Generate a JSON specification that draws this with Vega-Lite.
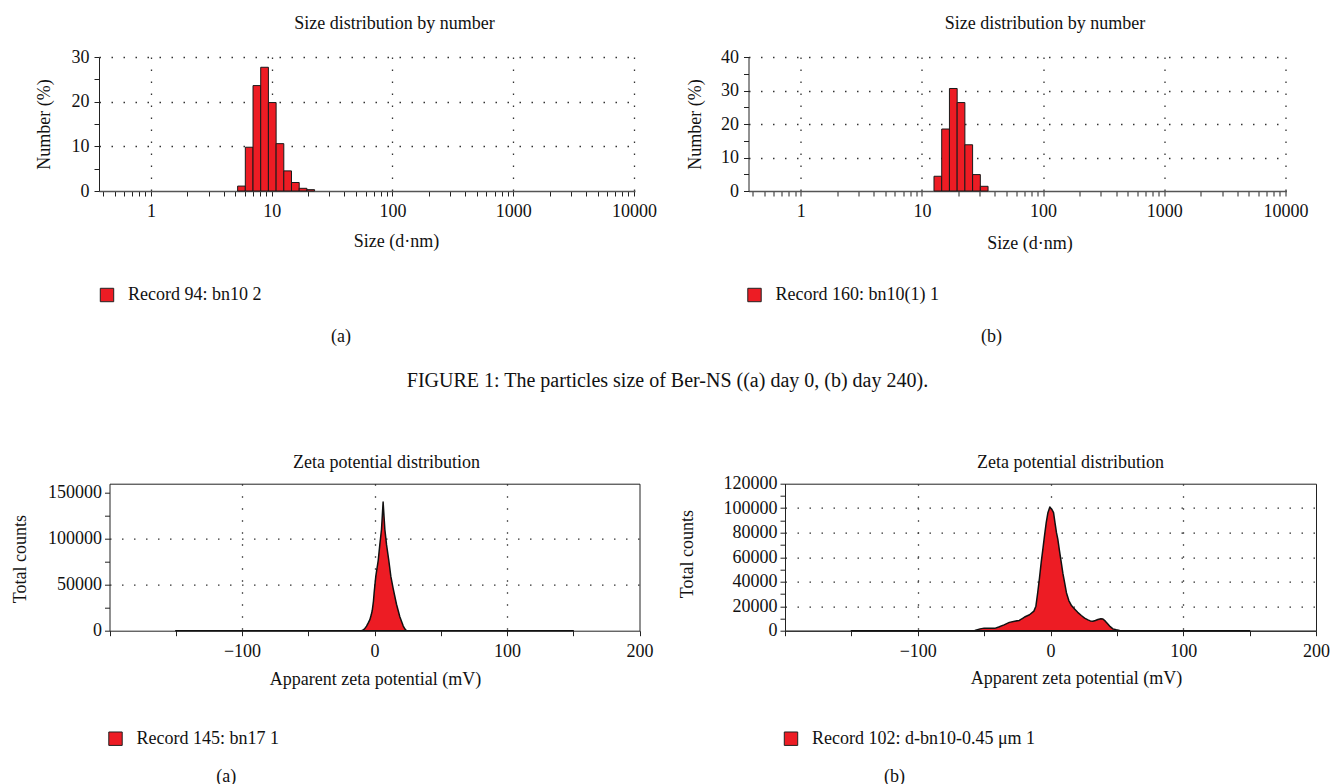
{
  "$schema": "https://vega.github.io/schema/vega-lite/v6.json",
  "padding": {"left": 10, "top": 14, "right": 0, "bottom": 0},
  "background": "white",
  "datasets": {
    "sizeA": [
      {"size": 5.615, "lo": 5.218, "hi": 6.043, "pct": 1.1, "record": "Record 94: bn10 2"},
      {"size": 6.503, "lo": 6.043, "hi": 6.998, "pct": 9.8, "record": "Record 94: bn10 2"},
      {"size": 7.531, "lo": 6.998, "hi": 8.104, "pct": 23.6, "record": "Record 94: bn10 2"},
      {"size": 8.721, "lo": 8.104, "hi": 9.385, "pct": 27.7, "record": "Record 94: bn10 2"},
      {"size": 10.1, "lo": 9.385, "hi": 10.871, "pct": 19.8, "record": "Record 94: bn10 2"},
      {"size": 11.7, "lo": 10.871, "hi": 12.587, "pct": 10.6, "record": "Record 94: bn10 2"},
      {"size": 13.54, "lo": 12.587, "hi": 14.575, "pct": 4.5, "record": "Record 94: bn10 2"},
      {"size": 15.69, "lo": 14.575, "hi": 16.884, "pct": 1.9, "record": "Record 94: bn10 2"},
      {"size": 18.17, "lo": 16.884, "hi": 19.552, "pct": 0.6, "record": "Record 94: bn10 2"},
      {"size": 21.04, "lo": 19.552, "hi": 22.639, "pct": 0.3, "record": "Record 94: bn10 2"}
    ],
    "sizeB": [
      {"size": 13.54, "lo": 12.587, "hi": 14.575, "pct": 4.4, "record": "Record 160: bn10(1) 1"},
      {"size": 15.69, "lo": 14.575, "hi": 16.884, "pct": 18.5, "record": "Record 160: bn10(1) 1"},
      {"size": 18.17, "lo": 16.884, "hi": 19.552, "pct": 30.6, "record": "Record 160: bn10(1) 1"},
      {"size": 21.04, "lo": 19.552, "hi": 22.639, "pct": 26.4, "record": "Record 160: bn10(1) 1"},
      {"size": 24.36, "lo": 22.639, "hi": 26.214, "pct": 13.8, "record": "Record 160: bn10(1) 1"},
      {"size": 28.21, "lo": 26.214, "hi": 30.358, "pct": 4.9, "record": "Record 160: bn10(1) 1"},
      {"size": 32.67, "lo": 30.358, "hi": 35.16, "pct": 1.4, "record": "Record 160: bn10(1) 1"}
    ],
    "zetaC": [
      {"mv": -150, "counts": 0, "record": "Record 145: bn17 1"},
      {"mv": -10, "counts": 0, "record": "Record 145: bn17 1"},
      {"mv": -9.3, "counts": 200, "record": "Record 145: bn17 1"},
      {"mv": -7.5, "counts": 2000, "record": "Record 145: bn17 1"},
      {"mv": -6, "counts": 5000, "record": "Record 145: bn17 1"},
      {"mv": -4.7, "counts": 8500, "record": "Record 145: bn17 1"},
      {"mv": -3.5, "counts": 12000, "record": "Record 145: bn17 1"},
      {"mv": -2.5, "counts": 17000, "record": "Record 145: bn17 1"},
      {"mv": -1.7, "counts": 22000, "record": "Record 145: bn17 1"},
      {"mv": -0.8, "counts": 32000, "record": "Record 145: bn17 1"},
      {"mv": -0.2, "counts": 42400, "record": "Record 145: bn17 1"},
      {"mv": 1, "counts": 59400, "record": "Record 145: bn17 1"},
      {"mv": 2.8, "counts": 76400, "record": "Record 145: bn17 1"},
      {"mv": 4, "counts": 93400, "record": "Record 145: bn17 1"},
      {"mv": 5.3, "counts": 110400, "record": "Record 145: bn17 1"},
      {"mv": 6.5, "counts": 140000, "record": "Record 145: bn17 1"},
      {"mv": 7.8, "counts": 110400, "record": "Record 145: bn17 1"},
      {"mv": 9.1, "counts": 93400, "record": "Record 145: bn17 1"},
      {"mv": 10.8, "counts": 76400, "record": "Record 145: bn17 1"},
      {"mv": 12.3, "counts": 59400, "record": "Record 145: bn17 1"},
      {"mv": 14.1, "counts": 45800, "record": "Record 145: bn17 1"},
      {"mv": 16.6, "counts": 28800, "record": "Record 145: bn17 1"},
      {"mv": 19.1, "counts": 15200, "record": "Record 145: bn17 1"},
      {"mv": 21.7, "counts": 5000, "record": "Record 145: bn17 1"},
      {"mv": 23, "counts": 1800, "record": "Record 145: bn17 1"},
      {"mv": 24.2, "counts": 0, "record": "Record 145: bn17 1"},
      {"mv": 150, "counts": 0, "record": "Record 145: bn17 1"}
    ],
    "zetaD": [
      {"mv": -150, "counts": 0, "record": "Record 102: d-bn10-0.45 μm 1"},
      {"mv": -60, "counts": 0, "record": "Record 102: d-bn10-0.45 μm 1"},
      {"mv": -57, "counts": 200, "record": "Record 102: d-bn10-0.45 μm 1"},
      {"mv": -53, "counts": 1500, "record": "Record 102: d-bn10-0.45 μm 1"},
      {"mv": -50, "counts": 2100, "record": "Record 102: d-bn10-0.45 μm 1"},
      {"mv": -45, "counts": 2000, "record": "Record 102: d-bn10-0.45 μm 1"},
      {"mv": -42, "counts": 1900, "record": "Record 102: d-bn10-0.45 μm 1"},
      {"mv": -39, "counts": 3000, "record": "Record 102: d-bn10-0.45 μm 1"},
      {"mv": -35, "counts": 4800, "record": "Record 102: d-bn10-0.45 μm 1"},
      {"mv": -31, "counts": 6800, "record": "Record 102: d-bn10-0.45 μm 1"},
      {"mv": -27, "counts": 7800, "record": "Record 102: d-bn10-0.45 μm 1"},
      {"mv": -23.5, "counts": 8400, "record": "Record 102: d-bn10-0.45 μm 1"},
      {"mv": -21, "counts": 10000, "record": "Record 102: d-bn10-0.45 μm 1"},
      {"mv": -19.5, "counts": 11200, "record": "Record 102: d-bn10-0.45 μm 1"},
      {"mv": -15.8, "counts": 13000, "record": "Record 102: d-bn10-0.45 μm 1"},
      {"mv": -12.5, "counts": 16000, "record": "Record 102: d-bn10-0.45 μm 1"},
      {"mv": -11, "counts": 20000, "record": "Record 102: d-bn10-0.45 μm 1"},
      {"mv": -9.6, "counts": 31400, "record": "Record 102: d-bn10-0.45 μm 1"},
      {"mv": -8.3, "counts": 43000, "record": "Record 102: d-bn10-0.45 μm 1"},
      {"mv": -7, "counts": 55800, "record": "Record 102: d-bn10-0.45 μm 1"},
      {"mv": -5.7, "counts": 67000, "record": "Record 102: d-bn10-0.45 μm 1"},
      {"mv": -4.5, "counts": 77600, "record": "Record 102: d-bn10-0.45 μm 1"},
      {"mv": -3.2, "counts": 88400, "record": "Record 102: d-bn10-0.45 μm 1"},
      {"mv": -2, "counts": 96000, "record": "Record 102: d-bn10-0.45 μm 1"},
      {"mv": -0.5, "counts": 101000, "record": "Record 102: d-bn10-0.45 μm 1"},
      {"mv": 1, "counts": 99000, "record": "Record 102: d-bn10-0.45 μm 1"},
      {"mv": 2.3, "counts": 96400, "record": "Record 102: d-bn10-0.45 μm 1"},
      {"mv": 3.4, "counts": 88000, "record": "Record 102: d-bn10-0.45 μm 1"},
      {"mv": 4.5, "counts": 80000, "record": "Record 102: d-bn10-0.45 μm 1"},
      {"mv": 5.5, "counts": 74800, "record": "Record 102: d-bn10-0.45 μm 1"},
      {"mv": 6.8, "counts": 65000, "record": "Record 102: d-bn10-0.45 μm 1"},
      {"mv": 8.1, "counts": 55800, "record": "Record 102: d-bn10-0.45 μm 1"},
      {"mv": 9.3, "counts": 47000, "record": "Record 102: d-bn10-0.45 μm 1"},
      {"mv": 10.6, "counts": 39500, "record": "Record 102: d-bn10-0.45 μm 1"},
      {"mv": 12, "counts": 31000, "record": "Record 102: d-bn10-0.45 μm 1"},
      {"mv": 13.8, "counts": 24600, "record": "Record 102: d-bn10-0.45 μm 1"},
      {"mv": 15.8, "counts": 20500, "record": "Record 102: d-bn10-0.45 μm 1"},
      {"mv": 18.1, "counts": 17800, "record": "Record 102: d-bn10-0.45 μm 1"},
      {"mv": 20.5, "counts": 15000, "record": "Record 102: d-bn10-0.45 μm 1"},
      {"mv": 23.2, "counts": 12400, "record": "Record 102: d-bn10-0.45 μm 1"},
      {"mv": 25.7, "counts": 10300, "record": "Record 102: d-bn10-0.45 μm 1"},
      {"mv": 28.2, "counts": 8800, "record": "Record 102: d-bn10-0.45 μm 1"},
      {"mv": 30, "counts": 8000, "record": "Record 102: d-bn10-0.45 μm 1"},
      {"mv": 31.9, "counts": 7700, "record": "Record 102: d-bn10-0.45 μm 1"},
      {"mv": 33.8, "counts": 8300, "record": "Record 102: d-bn10-0.45 μm 1"},
      {"mv": 35.7, "counts": 9100, "record": "Record 102: d-bn10-0.45 μm 1"},
      {"mv": 38, "counts": 9700, "record": "Record 102: d-bn10-0.45 μm 1"},
      {"mv": 39.5, "counts": 9600, "record": "Record 102: d-bn10-0.45 μm 1"},
      {"mv": 41.3, "counts": 7800, "record": "Record 102: d-bn10-0.45 μm 1"},
      {"mv": 43.2, "counts": 5500, "record": "Record 102: d-bn10-0.45 μm 1"},
      {"mv": 45, "counts": 3300, "record": "Record 102: d-bn10-0.45 μm 1"},
      {"mv": 47, "counts": 1500, "record": "Record 102: d-bn10-0.45 μm 1"},
      {"mv": 49.5, "counts": 700, "record": "Record 102: d-bn10-0.45 μm 1"},
      {"mv": 52.1, "counts": 200, "record": "Record 102: d-bn10-0.45 μm 1"},
      {"mv": 56, "counts": 50, "record": "Record 102: d-bn10-0.45 μm 1"},
      {"mv": 60, "counts": 0, "record": "Record 102: d-bn10-0.45 μm 1"},
      {"mv": 150, "counts": 0, "record": "Record 102: d-bn10-0.45 μm 1"}
    ]
  },
  "config": {
    "font": "Liberation Serif",
    "view": {"stroke": null},
    "title": {"font": "Liberation Serif", "fontSize": 18, "fontWeight": "normal", "color": "#111"},
    "axis": {
      "labelFont": "Liberation Serif", "labelFontSize": 18, "labelColor": "#111",
      "titleFont": "Liberation Serif", "titleFontSize": 18, "titleFontWeight": "normal", "titleColor": "#111",
      "tickColor": "#222", "domainColor": "#222", "tickSize": 5, "labelPadding": 4,
      "gridColor": "#333", "gridDash": [1.5, 10.5], "gridWidth": 1.3,
      "labelOverlap": false, "labelFlush": false
    },
    "legend": {
      "labelFont": "Liberation Serif", "labelFontSize": 18, "labelColor": "#111", "labelLimit": 0,
      "symbolType": "square", "symbolSize": 180, "symbolStrokeColor": "#222", "symbolStrokeWidth": 1,
      "labelOffset": 12, "padding": 0
    }
  },
  "spacing": 61.7,
  "resolve": {"scale": {"color": "independent"}},
  "vconcat": [
    {
      "title": {"text": "FIGURE 1: The particles size of Ber-NS ((a) day 0, (b) day 240).", "orient": "bottom", "anchor": "middle", "frame": "bounds", "offset": 25, "dx": -4, "fontSize": 20},
      "spacing": 28.5,
      "resolve": {"scale": {"color": "independent"}},
      "hconcat": [
        {
          "width": 536, "height": 134,
          "data": {"name": "sizeA"},
          "title": {"text": "(a)", "orient": "bottom", "anchor": "middle", "frame": "group", "offset": 24, "dx": -26},
          "layer": [
            {
              "mark": {"type": "rect", "stroke": "#1a1a1a", "strokeWidth": 1},
              "encoding": {
                "x": {"field": "lo", "type": "quantitative", "scale": {"type": "log", "domain": [0.371, 10200], "nice": false},
                  "axis": {"title": "Size (d·nm)", "values": [0.4,0.5,0.6,0.7,0.8,0.9,1,2,3,4,5,6,7,8,9,10,20,30,40,50,60,70,80,90,100,200,300,400,500,600,700,800,900,1000,2000,3000,4000,5000,6000,7000,8000,9000,10000],
                    "labelExpr": "indexof([1,10,100,1000,10000], datum.value) >= 0 ? format(datum.value, 'd') : ''",
                    "gridOpacity": {"condition": {"test": "indexof([1,10,100,1000,10000], datum.value) >= 0", "value": 1}, "value": 0},
                    "domainColor": "#555", "domainWidth": 1.5, "labelPadding": 6,
                    "titleX": 297, "titleY": 50, "titleBaseline": "middle", "titleAlign": "center"}},
                "x2": {"field": "hi"},
                "y": {"field": "pct", "type": "quantitative", "scale": {"domain": [0, 30]},
                  "axis": {"title": "Number (%)", "values": [0,5,10,15,20,25,30],
                    "labelExpr": "datum.value % 10 === 0 ? datum.label : ''",
                    "gridOpacity": {"condition": {"test": "datum.value % 10 === 0 && datum.value > 0", "value": 1}, "value": 0},
                    "labelPadding": 5,
                    "titleX": -55, "titleY": 67, "titleAngle": -90, "titleBaseline": "middle", "titleAlign": "center"}},
                "color": {"field": "record", "type": "nominal", "scale": {"range": ["#ed1c24"]},
                  "legend": {"orient": "none", "legendX": -1, "legendY": 229, "title": null}}
              }
            },
            {
              "mark": {"type": "rule", "opacity": 0},
              "encoding": {
                "x": {"field": "lo", "type": "quantitative",
                  "axis": {"orient": "top", "title": "Size distribution by number", "labels": false, "ticks": false, "domain": false, "grid": false,
                    "titleX": 295, "titleY": -34, "titleBaseline": "middle", "titleAlign": "center"}}
              }
            }
          ],
          "resolve": {"axis": {"x": "independent"}}
        },
        {
          "width": 538, "height": 134,
          "data": {"name": "sizeB"},
          "title": {"text": "(b)", "orient": "bottom", "anchor": "middle", "frame": "group", "offset": 24, "dx": -26},
          "layer": [
            {
              "mark": {"type": "rect", "stroke": "#1a1a1a", "strokeWidth": 1},
              "encoding": {
                "x": {"field": "lo", "type": "quantitative", "scale": {"type": "log", "domain": [0.371, 10200], "nice": false},
                  "axis": {"title": "Size (d·nm)", "values": [0.4,0.5,0.6,0.7,0.8,0.9,1,2,3,4,5,6,7,8,9,10,20,30,40,50,60,70,80,90,100,200,300,400,500,600,700,800,900,1000,2000,3000,4000,5000,6000,7000,8000,9000,10000],
                    "labelExpr": "indexof([1,10,100,1000,10000], datum.value) >= 0 ? format(datum.value, 'd') : ''",
                    "gridOpacity": {"condition": {"test": "indexof([1,10,100,1000,10000], datum.value) >= 0", "value": 1}, "value": 0},
                    "domainColor": "#555", "domainWidth": 1.5, "labelPadding": 6,
                    "titleX": 281, "titleY": 52, "titleBaseline": "middle", "titleAlign": "center"}},
                "x2": {"field": "hi"},
                "y": {"field": "pct", "type": "quantitative", "scale": {"domain": [0, 40]},
                  "axis": {"title": "Number (%)", "values": [0,5,10,15,20,25,30,35,40],
                    "labelExpr": "datum.value % 10 === 0 ? datum.label : ''",
                    "gridOpacity": {"condition": {"test": "datum.value % 10 === 0 && datum.value > 0", "value": 1}, "value": 0},
                    "labelPadding": 5,
                    "titleX": -53, "titleY": 67, "titleAngle": -90, "titleBaseline": "middle", "titleAlign": "center"}},
                "color": {"field": "record", "type": "nominal", "scale": {"range": ["#ed1c24"]},
                  "legend": {"orient": "none", "legendX": -3, "legendY": 229, "title": null}}
              }
            },
            {
              "mark": {"type": "rule", "opacity": 0},
              "encoding": {
                "x": {"field": "lo", "type": "quantitative",
                  "axis": {"orient": "top", "title": "Size distribution by number", "labels": false, "ticks": false, "domain": false, "grid": false,
                    "titleX": 296, "titleY": -34, "titleBaseline": "middle", "titleAlign": "center"}}
              }
            }
          ],
          "resolve": {"axis": {"x": "independent"}}
        }
      ]
    },
    {
      "spacing": 24,
      "resolve": {"scale": {"color": "independent"}},
      "hconcat": [
        {
          "width": 540.5, "height": 147,
          "data": {"name": "zetaC"},
          "title": {"text": "(a)", "orient": "bottom", "anchor": "middle", "frame": "group", "offset": 20, "dx": -143},
          "layer": [
            {
              "mark": {"type": "area", "stroke": "#111", "strokeWidth": 1.5, "strokeJoin": "round"},
              "encoding": {
                "x": {"field": "mv", "type": "quantitative", "scale": {"domain": [-200, 200], "range": [10.5, 540.5]},
                  "axis": {"title": "Apparent zeta potential (mV)", "values": [-200,-150,-100,-50,0,50,100,150,200],
                    "labelExpr": "datum.value % 100 === 0 && datum.value > -200 ? datum.label : ''",
                    "gridOpacity": {"condition": {"test": "datum.value % 100 === 0 && abs(datum.value) < 200", "value": 1}, "value": 0},
                    "labelPadding": 7,
                    "titleX": 276, "titleY": 49, "titleBaseline": "middle", "titleAlign": "center"}},
                "y": {"field": "counts", "type": "quantitative", "scale": {"domain": [0, 150000]},
                  "axis": {"title": "Total counts", "format": "d", "values": [0,25000,50000,75000,100000,125000,150000],
                    "offset": -10.5,
                    "labelExpr": "datum.value % 50000 === 0 ? datum.label : ''",
                    "gridOpacity": {"condition": {"test": "datum.value % 50000 === 0 && datum.value > 0 && datum.value < 150000", "value": 1}, "value": 0},
                    "labelPadding": 3,
                    "titleX": -89.5, "titleY": 75, "titleAngle": -90, "titleBaseline": "middle", "titleAlign": "center"}},
                "color": {"field": "record", "type": "nominal", "scale": {"range": ["#ed1c24"]},
                  "legend": {"orient": "none", "legendX": 7.5, "legendY": 246, "title": null}}
              }
            },
            {
              "mark": {"type": "point", "opacity": 0},
              "encoding": {
                "x": {"field": "mv", "type": "quantitative",
                  "axis": {"orient": "top", "title": "Zeta potential distribution", "labels": false, "ticks": false, "domain": true, "domainColor": "#222", "grid": false,
                    "titleX": 287, "titleY": -21, "titleBaseline": "middle", "titleAlign": "center"}},
                "y": {"field": "counts", "type": "quantitative",
                  "axis": {"orient": "right", "title": null, "labels": false, "ticks": false, "domain": true, "domainColor": "#222", "grid": false}}
              }
            }
          ],
          "resolve": {"axis": {"x": "independent", "y": "independent"}}
        },
        {
          "width": 531, "height": 147,
          "data": {"name": "zetaD"},
          "view": {"stroke": "#222", "strokeWidth": 1},
          "title": {"text": "(b)", "orient": "bottom", "anchor": "middle", "frame": "group", "offset": 20, "dx": -156},
          "layer": [
            {
              "mark": {"type": "area", "stroke": "#111", "strokeWidth": 1.5, "strokeJoin": "round"},
              "encoding": {
                "x": {"field": "mv", "type": "quantitative", "scale": {"domain": [-200, 200]},
                  "axis": {"title": "Apparent zeta potential (mV)", "values": [-200,-150,-100,-50,0,50,100,150,200],
                    "labelExpr": "datum.value % 100 === 0 && datum.value > -200 ? datum.label : ''",
                    "gridOpacity": {"condition": {"test": "datum.value % 100 === 0 && abs(datum.value) < 200", "value": 1}, "value": 0},
                    "labelPadding": 7,
                    "titleX": 291, "titleY": 48, "titleBaseline": "middle", "titleAlign": "center"}},
                "y": {"field": "counts", "type": "quantitative", "scale": {"domain": [0, 120000]},
                  "axis": {"title": "Total counts", "format": "d", "values": [0,10000,20000,30000,40000,50000,60000,70000,80000,90000,100000,110000,120000],
                    "labelExpr": "datum.value % 20000 === 0 ? datum.label : ''",
                    "gridOpacity": {"condition": {"test": "datum.value % 20000 === 0 && datum.value > 0 && datum.value < 120000", "value": 1}, "value": 0},
                    "labelPadding": 3,
                    "titleX": -98, "titleY": 70, "titleAngle": -90, "titleBaseline": "middle", "titleAlign": "center"}},
                "color": {"field": "record", "type": "nominal", "scale": {"range": ["#ed1c24"]},
                  "legend": {"orient": "none", "legendX": -3, "legendY": 246, "title": null}}
              }
            },
            {
              "mark": {"type": "rule", "opacity": 0},
              "encoding": {
                "x": {"field": "mv", "type": "quantitative",
                  "axis": {"orient": "top", "title": "Zeta potential distribution", "labels": false, "ticks": false, "domain": false, "grid": false,
                    "titleX": 285, "titleY": -21, "titleBaseline": "middle", "titleAlign": "center"}}
              }
            }
          ],
          "resolve": {"axis": {"x": "independent"}}
        }
      ]
    }
  ]
}
